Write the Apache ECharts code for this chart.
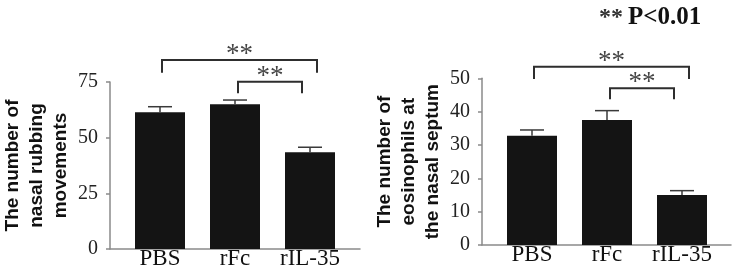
<!DOCTYPE html>
<html>
<head>
<meta charset="utf-8">
<script src="https://cdn.jsdelivr.net/npm/echarts@6/dist/echarts.min.js"></script>
<style>
  html, body { margin: 0; padding: 0; background: #fff; }
  #chart { width: 737px; height: 276px; }
</style>
</head>
<body>
<div id="chart"></div>
<script>
// data
const categories = ['PBS', 'rFc', 'rIL-35']
const rubbingMean = [61.4, 65.0, 43.4]
const rubbingErr = [2.5, 1.9, 2.3]
const eosMean = [32.8, 37.5, 15.0]
const eosErr = [1.7, 2.8, 1.3]
// [from category, to category, bracket top, bracket foot]
const rubbingBrackets = [[0, 2, 84.9, 79.2], [1, 2, 75.1, 70.0]]
const eosBrackets = [[0, 2, 53.5, 49.8], [1, 2, 47.0, 43.7]]
const sigMark = '**'
const sigNote = 'P<0.01'

const serif = '"Liberation Serif", "Times New Roman", serif'
const sans = '"Liberation Sans", Arial, sans-serif'
const bracketInset = [[2, 7], [3, -8]] // px nudges for bracket ends

const chart = echarts.init(document.getElementById('chart'), null, { renderer: 'canvas' })

function errorBar(params, api) {
  const x = api.value(0)
  const m = api.value(1)
  const e = api.value(2)
  const base = api.coord([x, m])
  const top = api.coord([x, m + e])
  const st = { stroke: '#3a3a3a', lineWidth: 1.5 }
  return {
    type: 'group',
    children: [
      { type: 'line', shape: { x1: base[0], y1: base[1], x2: top[0], y2: top[1] }, style: st },
      { type: 'line', shape: { x1: top[0] - 12, y1: top[1], x2: top[0] + 12, y2: top[1] }, style: st }
    ]
  }
}

function bracket(params, api) {
  const inset = bracketInset[params.dataIndex]
  const a = api.coord([api.value(0), api.value(2)])
  const b = api.coord([api.value(1), api.value(2)])
  const foot = api.coord([api.value(0), api.value(3)])[1]
  const x1 = a[0] + inset[0]
  const x2 = b[0] + inset[1]
  const y = a[1]
  return {
    type: 'group',
    children: [
      {
        type: 'polyline',
        shape: { points: [[x1, foot], [x1, y], [x2, y], [x2, foot]] },
        style: { stroke: '#2e2e2e', lineWidth: 2, fill: null }
      },
      {
        type: 'text',
        style: {
          text: sigMark, x: (x1 + x2) / 2, y: y - 5,
          align: 'center', verticalAlign: 'middle',
          font: '27px ' + serif, fill: '#444'
        }
      }
    ]
  }
}

function frameAxes(gridIndex, max, interval, name, gap) {
  return {
    x: {
      gridIndex: gridIndex, type: 'value', min: 0, max: 1,
      axisLine: { show: true, onZero: false, lineStyle: { color: '#8a8a8a', width: 1.5 } },
      axisTick: { show: false }, axisLabel: { show: false }, splitLine: { show: false }
    },
    y: {
      gridIndex: gridIndex, type: 'value', min: 0, max: max, interval: interval,
      name: name, nameLocation: 'middle', nameGap: gap,
      nameTextStyle: { fontFamily: sans, fontWeight: 'bold', fontSize: 19, lineHeight: 24, color: '#111' },
      axisLine: { show: true, lineStyle: { color: '#8a8a8a', width: 1.5 } },
      axisTick: { show: true, length: 4, lineStyle: { color: '#8a8a8a', width: 1.5 } },
      axisLabel: { fontFamily: serif, fontSize: 20, color: '#222', margin: 12 },
      splitLine: { show: false }
    }
  }
}

function barAxes(gridIndex, max) {
  return {
    x: {
      gridIndex: gridIndex, type: 'category', data: categories,
      axisLine: { show: false }, axisTick: { show: false },
      axisLabel: { interval: 0, hideOverlap: false, fontFamily: serif, fontSize: 23, color: '#111', margin: -2 }
    },
    y: { gridIndex: gridIndex, type: 'value', min: 0, max: max, show: false }
  }
}

const leftFrame = frameAxes(0, 75, 25, 'The number of\nnasal rubbing\nmovements', 37)
const leftBars = barAxes(1, 75)
const rightFrame = frameAxes(2, 50, 10, 'The number of\neosinophils at\nthe nasal septum', 37)
const rightBars = barAxes(3, 50)

function seriesFor(axisIndex, mean, err, brackets) {
  return [
    {
      type: 'bar', xAxisIndex: axisIndex, yAxisIndex: axisIndex,
      data: mean, barWidth: 50, itemStyle: { color: '#141414' }, silent: true
    },
    {
      type: 'custom', xAxisIndex: axisIndex, yAxisIndex: axisIndex,
      renderItem: errorBar, encode: { x: 0, y: 1 }, z: 3,
      data: mean.map((m, i) => [i, m, err[i]])
    },
    {
      type: 'custom', xAxisIndex: axisIndex, yAxisIndex: axisIndex,
      renderItem: bracket, encode: { x: [0, 1], y: [2, 3] }, clip: false, z: 4,
      data: brackets
    }
  ]
}

chart.setOption({
  animation: false,
  title: {
    text: '{a|' + sigMark + '} {b|' + sigNote + '}',
    left: 594, top: 0,
    textStyle: {
      rich: {
        a: { fontFamily: serif, fontSize: 24, color: '#333' },
        b: { fontFamily: serif, fontSize: 25, fontWeight: 'bold', color: '#111' }
      }
    }
  },
  grid: [
    { left: 110, right: 377, top: 82, bottom: 27 },
    { left: 122.5, right: 389.5, top: 82, bottom: 27 },
    { left: 482, right: 6, top: 78.3, bottom: 31 },
    { left: 494.5, right: 17.5, top: 78.3, bottom: 31 }
  ],
  xAxis: [leftFrame.x, leftBars.x, rightFrame.x, rightBars.x],
  yAxis: [leftFrame.y, leftBars.y, rightFrame.y, rightBars.y],
  series: [
    ...seriesFor(1, rubbingMean, rubbingErr, rubbingBrackets),
    ...seriesFor(3, eosMean, eosErr, eosBrackets)
  ]
})
</script>
</body>
</html>
